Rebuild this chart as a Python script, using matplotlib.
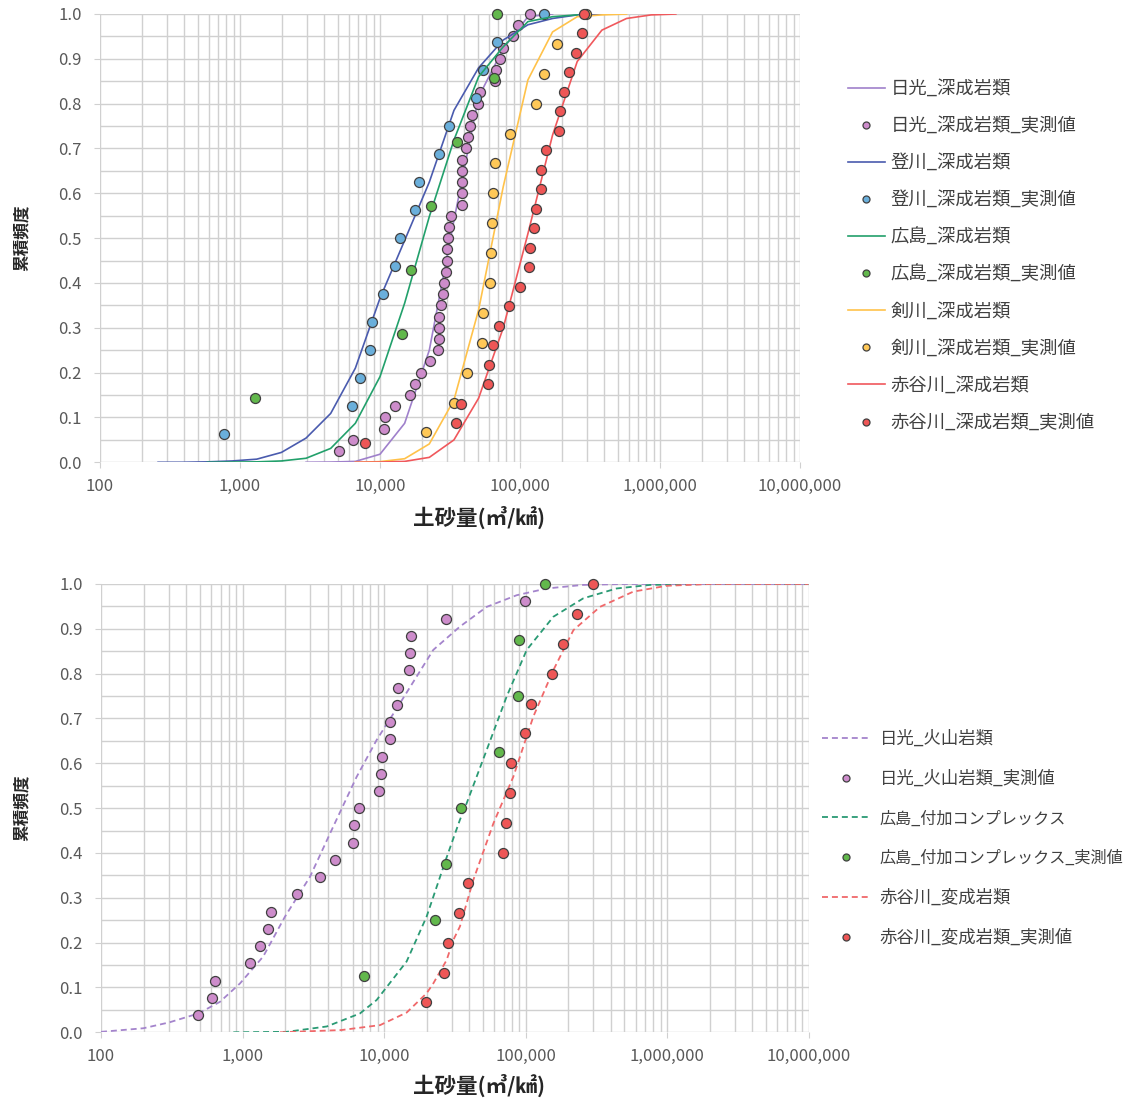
import matplotlib
matplotlib.use("Agg")
import matplotlib.pyplot as plt
from matplotlib.ticker import FixedLocator, FuncFormatter, LogLocator, MultipleLocator

plt.rcParams['font.family'] = ['Noto Sans CJK JP', 'DejaVu Sans']

# ---- 上段: 深成岩類 ----
knots = [260, 390, 585, 878, 1317, 1975, 2963, 4444, 6667, 10000, 15000, 22500,
         33750, 50625, 75938, 113906, 170859, 256289, 384434, 576650, 864976, 1297463]

nikko_x = knots[6:17]
nikko_y = [0.0, 0.0005, 0.002, 0.018, 0.087, 0.25, 0.54, 0.815, 0.923, 0.994, 1.0]
nobori_x = knots[0:19]
nobori_y = [0.0, 0.0, 0.001, 0.003, 0.007, 0.022, 0.054, 0.109, 0.21, 0.366, 0.495,
            0.625, 0.785, 0.88, 0.942, 0.976, 0.99, 0.998, 1.0]
hiro_x = knots[2:18]
hiro_y = [0.0, 0.0005, 0.001, 0.003, 0.009, 0.031, 0.087, 0.191, 0.355, 0.548, 0.719,
          0.86, 0.927, 0.983, 0.994, 0.998]
tsurugi_x = knots[8:20]
tsurugi_y = [0.0, 0.0015, 0.008, 0.041, 0.139, 0.34, 0.615, 0.853, 0.96, 0.994, 0.998, 1.0]
akaya_x = knots[8:22]
akaya_y = [0.0, 0.0005, 0.002, 0.011, 0.05, 0.143, 0.30, 0.51, 0.73, 0.894, 0.964,
           0.99, 0.998, 1.0]

nikko_obs_x = [5090, 6380, 10740, 10860, 12800, 16380, 17700, 19530, 22600, 26100,
               26200, 26500, 26600, 27300, 28000, 28600, 29600, 30100, 30100, 30600,
               31100, 32000, 38300, 38300, 38300, 38300, 38300, 41100, 42700, 44200,
               45200, 50300, 51800, 66200, 67400, 71900, 76000, 88700, 97300, 118600]
nikko_obs_y = [0.025, 0.05, 0.075, 0.1, 0.125, 0.15, 0.175, 0.2, 0.225, 0.25, 0.275,
               0.3, 0.325, 0.35, 0.375, 0.4, 0.425, 0.45, 0.475, 0.5, 0.525, 0.55,
               0.575, 0.6, 0.625, 0.65, 0.675, 0.7, 0.725, 0.75, 0.775, 0.8, 0.825,
               0.85, 0.875, 0.9, 0.925, 0.95, 0.975, 1.0]
nobori_obs_x = [764, 6310, 7160, 8430, 8810, 10450, 12800, 13900, 17700, 18900, 26500,
                31100, 48700, 54700, 68200, 147500]
nobori_obs_y = [0.0625, 0.125, 0.1875, 0.25, 0.3125, 0.375, 0.4375, 0.5, 0.5625,
                0.625, 0.6875, 0.75, 0.8125, 0.875, 0.9375, 1.0]
hiro_obs_x = [1280, 14360, 16650, 23100, 35300, 65600, 68200]
hiro_obs_y = [0.143, 0.286, 0.429, 0.571, 0.714, 0.857, 1.0]
tsurugi_obs_x = [21300, 33800, 41600, 53800, 54700, 61000, 62100, 63400, 64500, 66200,
                 84800, 130000, 147500, 182700, 294600]
tsurugi_obs_y = [0.067, 0.133, 0.2, 0.267, 0.333, 0.4, 0.467, 0.533, 0.6, 0.667, 0.733,
                 0.8, 0.867, 0.933, 1.0]
akaya_obs_x = [7810, 34900, 37700, 59000, 60300, 64500, 70800, 83000, 99500, 115400,
               118500, 126000, 130000, 141000, 141000, 153500, 190000, 194000, 205000,
               222600, 249800, 277200, 285000]
akaya_obs_y = [0.043, 0.087, 0.130, 0.174, 0.217, 0.261, 0.304, 0.348, 0.391, 0.435,
               0.478, 0.522, 0.565, 0.609, 0.652, 0.696, 0.739, 0.783, 0.826, 0.870,
               0.913, 0.957, 1.0]

top_labels = ['日光_深成岩類', '日光_深成岩類_実測値', '登川_深成岩類', '登川_深成岩類_実測値',
              '広島_深成岩類', '広島_深成岩類_実測値', '剣川_深成岩類', '剣川_深成岩類_実測値',
              '赤谷川_深成岩類', '赤谷川_深成岩類_実測値']

# ---- 下段: 火山岩類・付加コンプレックス・変成岩類 ----
nikko_v_x = [100, 199, 303, 488, 693, 960, 1400, 1996, 3000, 4380, 6410, 8870, 12970,
             22300, 34400, 53200, 86700, 141300, 256000, 500000, 1000000, 10000000]
nikko_v_y = [0.001, 0.009, 0.022, 0.042, 0.068, 0.109, 0.169, 0.258, 0.347, 0.459, 0.57,
             0.652, 0.734, 0.853, 0.905, 0.949, 0.975, 0.99, 0.998, 1.0, 1.0, 1.0]
hiro_a_x = [861, 2050, 3940, 6760, 8870, 14450, 20000, 27700, 34400, 38400, 53200, 73600,
            102000, 157400, 256000, 440000, 759000, 2000000, 10000000]
hiro_a_y = [0.0, 0.001, 0.013, 0.042, 0.072, 0.158, 0.258, 0.39, 0.474, 0.511, 0.63,
            0.749, 0.853, 0.927, 0.968, 0.99, 0.998, 1.0, 1.0]
akaya_m_x = [1841, 5000, 9380, 14450, 20000, 22300, 27700, 30900, 34400, 42800, 59300,
             82000, 113500, 157400, 218000, 336000, 578000, 995000, 2000000, 10000000]
akaya_m_y = [0.0, 0.005, 0.016, 0.044, 0.087, 0.109, 0.161, 0.206, 0.236, 0.34, 0.466,
             0.57, 0.704, 0.808, 0.897, 0.949, 0.983, 0.996, 1.0, 1.0]

nikko_v_obs_x = [488, 608, 635, 1130, 1330, 1507, 1582, 2427, 3515, 4530, 6010, 6110,
                 6660, 9170, 9570, 9720, 11020, 11020, 12410, 12610, 14950, 15210, 15450,
                 27400, 99800]
nikko_v_obs_y = [0.038, 0.077, 0.115, 0.154, 0.192, 0.231, 0.269, 0.308, 0.346, 0.385,
                 0.423, 0.462, 0.5, 0.538, 0.577, 0.615, 0.654, 0.692, 0.731, 0.769,
                 0.808, 0.846, 0.885, 0.923, 0.962]
hiro_a_obs_x = [7260, 22900, 27400, 34800, 65000, 88100, 90400, 137000]
hiro_a_obs_y = [0.125, 0.25, 0.375, 0.5, 0.625, 0.75, 0.875, 1.0]
akaya_m_obs_x = [19900, 26500, 28300, 33700, 39000, 69000, 72800, 77300, 79400, 99800,
                 109400, 153800, 183200, 232500, 300000]
akaya_m_obs_y = [0.067, 0.133, 0.2, 0.267, 0.333, 0.4, 0.467, 0.533, 0.6, 0.667, 0.733,
                 0.8, 0.867, 0.933, 1.0]

bottom_labels = ['日光_火山岩類', '日光_火山岩類_実測値', '広島_付加コンプレックス',
                 '広島_付加コンプレックス_実測値', '赤谷川_変成岩類', '赤谷川_変成岩類_実測値']

x_major = [1e2, 1e3, 1e4, 1e5, 1e6, 1e7]

W, H = 1137, 1102
fig = plt.figure(figsize=(W / 100, H / 100), dpi=100)
ax1 = fig.add_axes([100 / W, 1 - 462.3 / H, 700 / W, 448.3 / H])
ax2 = fig.add_axes([101 / W, 1 - 1032.3 / H, 707.5 / W, 448.3 / H])

grid_c = '#d0d0d0'
tick_c = '#595959'


def style_axis(ax):
    ax.set_xscale('log')
    ax.set_xlim(1e2, 1e7)
    ax.set_ylim(0, 1)
    ax.xaxis.set_major_locator(FixedLocator(x_major))
    ax.xaxis.set_major_formatter(FuncFormatter(lambda v, p: f"{int(round(v)):,}"))
    ax.xaxis.set_minor_locator(LogLocator(base=10, subs=range(2, 10), numticks=20))
    ax.xaxis.set_minor_formatter(FuncFormatter(lambda v, p: ''))
    ax.yaxis.set_major_locator(MultipleLocator(0.1))
    ax.yaxis.set_major_formatter(FuncFormatter(lambda v, p: f"{v:.1f}"))
    ax.yaxis.set_minor_locator(MultipleLocator(0.05))
    ax.grid(True, which='both', color=grid_c, linewidth=1.0)
    ax.set_axisbelow(True)
    for s in ax.spines.values():
        s.set_visible(False)
    ax.tick_params(which='major', axis='both', length=4, color=grid_c, labelcolor=tick_c,
                   labelsize=12)
    ax.tick_params(which='major', axis='x', pad=7)
    ax.tick_params(which='major', axis='y', pad=9)
    ax.tick_params(which='minor', length=0)


style_axis(ax1)
style_axis(ax2)

mk = dict(linestyle='none', marker='o', markersize=7.2, markeredgewidth=0.9,
          markeredgecolor='#404040', clip_on=False)

top_series = [
    (nikko_x, nikko_y, '#9f80cb', nikko_obs_x, nikko_obs_y, '#cd8ccb'),
    (nobori_x, nobori_y, '#4a5bae', nobori_obs_x, nobori_obs_y, '#6aafdb'),
    (hiro_x, hiro_y, '#22a06b', hiro_obs_x, hiro_obs_y, '#62b84c'),
    (tsurugi_x, tsurugi_y, '#ffc24a', tsurugi_obs_x, tsurugi_obs_y, '#ffc857'),
    (akaya_x, akaya_y, '#f0585c', akaya_obs_x, akaya_obs_y, '#ee5656'),
]
handles = []
z = 2
for lx, ly, lc, px, py, pc in top_series:
    h1, = ax1.plot(lx, ly, color=lc, linewidth=1.2, zorder=z)
    h2, = ax1.plot(px, py, markerfacecolor=pc, zorder=z + 1, **mk)
    handles += [h1, h2]
    z += 2
ax1.legend(handles, top_labels, loc='upper left', bbox_to_anchor=(848 / W, 1 - 80 / H),
           bbox_transform=fig.transFigure, frameon=False, borderaxespad=0, borderpad=0,
           handlelength=2.0, handletextpad=0.33, labelspacing=1.04, fontsize=13.2,
           markerscale=0.7, labelcolor='#404040')

bottom_series = [
    (nikko_v_x, nikko_v_y, '#a484cc', nikko_v_obs_x, nikko_v_obs_y, '#cd8ccb'),
    (hiro_a_x, hiro_a_y, '#2a9a74', hiro_a_obs_x, hiro_a_obs_y, '#62b84c'),
    (akaya_m_x, akaya_m_y, '#f0686a', akaya_m_obs_x, akaya_m_obs_y, '#ee5656'),
]
handles = []
z = 2
for lx, ly, lc, px, py, pc in bottom_series:
    h1, = ax2.plot(lx, ly, color=lc, linewidth=1.3, linestyle=(0, (3.3, 2.2)), zorder=z)
    h2, = ax2.plot(px, py, markerfacecolor=pc, zorder=z + 1, **mk)
    handles += [h1, h2]
    z += 2
leg2 = ax2.legend(handles, bottom_labels, loc='upper left',
                  bbox_to_anchor=(822 / W, 1 - 730 / H),
                  bbox_transform=fig.transFigure, frameon=False, borderaxespad=0,
                  borderpad=0, handlelength=2.76, handletextpad=0.57, labelspacing=1.28,
                  fontsize=12.5, markerscale=0.7, labelcolor='#404040')
# カタカナの長いラベルは少し小さく
for t in leg2.get_texts()[2:4]:
    t.set_fontsize(11.6)

# 軸ラベル
for yc in (238, 808):
    fig.text(22 / W, 1 - yc / H, '累積頻度', rotation=90, ha='center', va='center',
             fontsize=12, fontweight='bold', color='#262626')
for yc in (517, 1085):
    fig.text(479 / W, 1 - yc / H, '土砂量(㎥/㎢)', ha='center', va='center',
             fontsize=15.5, fontweight='bold', color='#262626')

fig.savefig('out.png', dpi=100)
